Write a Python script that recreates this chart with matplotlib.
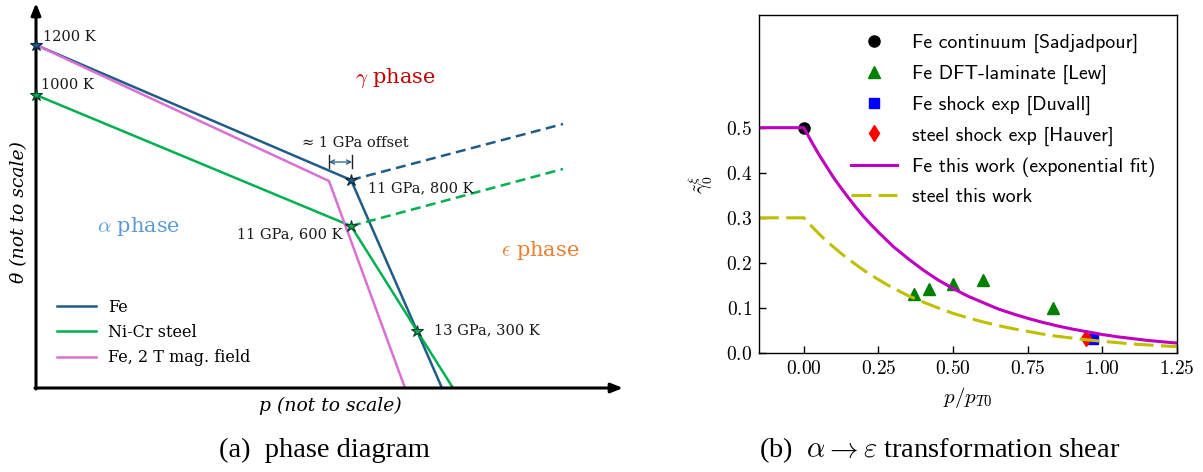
import matplotlib
matplotlib.use("Agg")
import matplotlib.pyplot as plt

plt.rcParams['mathtext.fontset'] = 'cm'
plt.rcParams['axes.formatter.use_mathtext'] = True

W, H = 1203, 472

# --- (a) phase diagram, schematic units (not to scale) ---
fe_p = [0, 315, 406]
fe_theta = [343, 208, 0]
fe_ext_p = [315, 527]
fe_ext_theta = [208, 264]

steel_p = [0, 315, 417]
steel_theta = [293, 162, 0]
steel_ext_p = [315, 527]
steel_ext_theta = [162, 219]

mag_p = [0, 293, 369]
mag_theta = [343, 207, 0]

fe_star_p = [0, 315]
fe_star_theta = [343, 208]
steel_star_p = [0, 315, 381]
steel_star_theta = [293, 162, 57]

offset_p = [293, 316]
offset_theta = 226

# --- (b) transformation shear ---
p_sadj = [0.0]
g_sadj = [0.5]
p_lew = [0.37, 0.42, 0.50, 0.60, 0.834]
g_lew = [0.13, 0.142, 0.152, 0.161, 0.10]
p_duv = [0.97]
g_duv = [0.03]
p_hau = [0.946]
g_hau = [0.033]

p_fit = [-0.15, 0.0, 0.025, 0.05, 0.075, 0.1, 0.125, 0.15, 0.175, 0.2, 0.225, 0.25,
         0.275, 0.3, 0.35, 0.4, 0.45, 0.5, 0.55, 0.6, 0.65, 0.7, 0.75, 0.8, 0.85,
         0.9, 0.95, 1.0, 1.05, 1.1, 1.15, 1.2, 1.25]
g_fe = [0.5, 0.5, 0.470, 0.441, 0.415, 0.389, 0.366, 0.344, 0.323, 0.303, 0.285, 0.268,
        0.252, 0.236, 0.209, 0.184, 0.162, 0.143, 0.126, 0.112, 0.098, 0.087, 0.077,
        0.068, 0.060, 0.053, 0.047, 0.041, 0.036, 0.032, 0.028, 0.025, 0.022]
g_steel = [0.3, 0.3, 0.282, 0.265, 0.249, 0.235, 0.221, 0.208, 0.196, 0.184, 0.173, 0.163,
           0.153, 0.144, 0.127, 0.113, 0.100, 0.088, 0.078, 0.069, 0.061, 0.054, 0.048,
           0.042, 0.037, 0.033, 0.029, 0.026, 0.023, 0.020, 0.018, 0.016, 0.014]

fe_col = '#1f5c87'
steel_col = '#00b050'
mag_col = '#da70d6'


def px_box(x0, x1, y0, y1):
    return [x0 / W, 1 - y1 / H, (x1 - x0) / W, (y1 - y0) / H]


fig = plt.figure(figsize=(W / 100, H / 100), dpi=100)

# ---------------- left panel ----------------
axL = fig.add_axes(px_box(36, 623, 3, 388))
axL.set_xlim(0, 587)
axL.set_ylim(0, 385)
axL.axis('off')

arrow = dict(arrowstyle='-|>,head_length=0.7,head_width=0.28', lw=2.2, color='k',
             shrinkA=0, shrinkB=0)
axL.annotate('', xy=(0, 385), xytext=(0, -1), arrowprops=arrow, annotation_clip=False)
axL.annotate('', xy=(587, 0), xytext=(-1, 0), arrowprops=arrow, annotation_clip=False)

axL.plot(fe_p, fe_theta, color=fe_col, lw=1.8, label='Fe')
axL.plot(steel_p, steel_theta, color=steel_col, lw=1.8, label='Ni-Cr steel')
axL.plot(mag_p, mag_theta, color=mag_col, lw=1.8, label='Fe, 2 T mag. field')
axL.plot(fe_ext_p, fe_ext_theta, color=fe_col, lw=1.8, dashes=(4, 2.2))
axL.plot(steel_ext_p, steel_ext_theta, color=steel_col, lw=1.8, dashes=(4, 2.2))

axL.plot(fe_star_p, fe_star_theta, ls='none', marker='*', ms=9, mfc=fe_col,
         mec='#0b2538', mew=0.8, clip_on=False, zorder=5)
axL.plot(steel_star_p, steel_star_theta, ls='none', marker='*', ms=9, mfc=steel_col,
         mec='#0b3a26', mew=0.8, clip_on=False, zorder=5)

# offset bracket
axL.annotate('', xy=(offset_p[1], offset_theta), xytext=(offset_p[0], offset_theta),
             arrowprops=dict(arrowstyle='<->,head_length=0.3,head_width=0.15', lw=0.9,
                             color=fe_col, shrinkA=0, shrinkB=0))
for xp in offset_p:
    axL.plot([xp, xp], [offset_theta - 6, offset_theta + 7], color='#222222', lw=1)

tf = dict(family='DejaVu Serif', fontsize=10.5, color='#1a1a1a')
axL.text(7, 351, '1200 K', ha='left', va='center', **tf)
axL.text(5, 303, '1000 K', ha='left', va='center', **tf)
axL.text(332, 200, '11 GPa, 800 K', ha='left', va='center', **tf)
axL.text(307, 154, '11 GPa, 600 K', ha='right', va='center', **tf)
axL.text(398, 58, '13 GPa, 300 K', ha='left', va='center', **tf)
axL.text(319, 245, '≈ 1 GPa offset', ha='center', va='center', **tf)

pf = dict(family='DejaVu Serif', fontsize=15)
axL.text(359, 310, r'$\gamma$ phase', ha='center', va='center', color='#c00000', **pf)
axL.text(103, 161, r'$\alpha$ phase', ha='center', va='center', color='#5b9bd5', **pf)
axL.text(504, 138, r'$\epsilon$ phase', ha='center', va='center', color='#ed7d31', **pf)

axL.text(-17, 176, 'θ (not to scale)', rotation=90, ha='center',
         va='center', family='DejaVu Serif', style='italic', fontsize=13.5)
axL.text(294, -18, 'p (not to scale)', ha='center', va='center',
         family='DejaVu Serif', style='italic', fontsize=13.5)

axL.legend(loc='upper left', bbox_to_anchor=(56.7 / W, 1 - 298.6 / H),
           bbox_transform=fig.transFigure, frameon=False,
           prop=dict(family='DejaVu Serif', size=11.5), handlelength=2.46,
           handletextpad=0.75, labelspacing=0.52, borderpad=0, borderaxespad=0)

# ---------------- right panel ----------------
axR = fig.add_axes(px_box(759, 1177, 15, 353))
axR.plot(p_sadj, g_sadj, 'ko', ms=8, label='Fe continuum [Sadjadpour]')
axR.plot(p_lew, g_lew, 'g^', ms=8, label='Fe DFT-laminate [Lew]')
axR.plot(p_duv, g_duv, 'bs', ms=7.5, label='Fe shock exp [Duvall]')
axR.plot(p_hau, g_hau, 'rd', ms=8, label='steel shock exp [Hauver]')
axR.plot(p_fit, g_fe, color='m', lw=2.2, label='Fe this work (exponential fit)')
axR.plot(p_fit, g_steel, color='y', lw=2.2, dashes=(6.5, 2.4), label='steel this work')

axR.set_xlim(-0.15, 1.25)
axR.set_ylim(0, 0.75)
axR.set_xticks([0.0, 0.25, 0.5, 0.75, 1.0, 1.25])
axR.set_yticks([0.0, 0.1, 0.2, 0.3, 0.4, 0.5])
axR.tick_params(direction='in', length=5, width=1, labelsize=14, pad=5,
                labelfontfamily='cmr10')
for s in axR.spines.values():
    s.set_linewidth(1.0)
axR.set_xlabel(r'$p/p_{T0}$', fontsize=15, labelpad=5)
axR.set_ylabel(r'$\tilde{\gamma}_0^{\xi}$', fontsize=14, labelpad=8)

axR.legend(loc='upper left', bbox_to_anchor=(851 / W, 1 - 34 / H),
           bbox_transform=fig.transFigure, frameon=False,
           prop=dict(family='cmss10', size=14.3), handlelength=2.3,
           handletextpad=0.75, labelspacing=0.58, borderpad=0, borderaxespad=0)

# captions
cf = dict(family='Liberation Serif', fontsize=20.5, ha='center', va='center')
fig.text(324.5 / W, 1 - 450 / H, '(a)  phase diagram', **cf)
fig.text(940 / W, 1 - 450 / H, r'(b)  $\alpha \rightarrow \varepsilon$ transformation shear', **cf)

fig.savefig('out.png', dpi=100)
